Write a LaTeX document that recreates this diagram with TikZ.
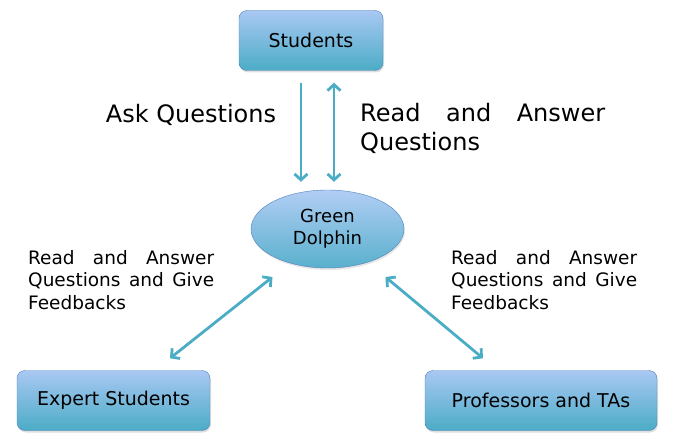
\documentclass[tikz,border=0pt]{standalone}
\usepackage{fontspec}
\setmainfont{DejaVu Sans}
\usetikzlibrary{arrows.meta, shapes.geometric, shadows}
\definecolor{boxtop}{HTML}{A9C8F3}
\definecolor{boxbot}{HTML}{4BACC6}
\definecolor{boxline}{HTML}{4F81BD}
\definecolor{arrcol}{HTML}{4BACC6}

\begin{document}
\begin{tikzpicture}[x=1pt,y=-1pt,
    actor/.style={draw=boxline, rounded corners=8pt, top color=boxtop, bottom color=boxbot,
      minimum height=60pt, font=\fontsize{19}{23}\selectfont, drop shadow={opacity=0.25, shadow xshift=1pt, shadow yshift=-2pt}},
    hub/.style={ellipse, draw=boxline, top color=boxtop!90!white, bottom color=boxbot!85!boxtop,
      minimum width=153pt, minimum height=78pt, inner sep=0pt, align=center,
      font=\fontsize{18}{22}\selectfont, drop shadow={opacity=0.2, shadow xshift=1pt, shadow yshift=-2pt}},
    tip/.tip={Straight Barb[length=6pt,width=13pt]},
    arr/.style={tip-tip, line width=2.8pt, color=arrcol},
    big/.style={font=\fontsize{24}{29}\selectfont, inner sep=0pt},
    small/.style={font=\fontsize{18.5}{22.5}\selectfont, inner sep=0pt, text width=186pt, align=justify, anchor=north west}]
  \useasboundingbox (0,0) rectangle (673,444);
  % the four parties
  \node[actor, minimum width=144pt] (stud) at (311,40.5) {Students};
  \node[hub] (dol) at (327.5,229) {Green\\Dolphin};
  \node[actor, minimum width=193pt] (exp) at (113.5,400.5) {Expert Students};
  \node[actor, minimum width=232pt] (prof) at (541,400.5) {Professors and TAs};
  % students <-> dolphin
  \draw[arr, -tip, shorten <=12pt, shorten >=8pt]
    ([xshift=-10pt]stud.south) -- ([xshift=-10pt]stud.south |- dol.north);
  \draw[arr, shorten <=12pt, shorten >=8pt]
    ([xshift=23pt]stud.south) -- ([xshift=23pt]stud.south |- dol.north);
  % dolphin <-> experts and professors
  \draw[arr] ([shift={(56.5pt,12pt)}]exp.north) -- ([shift={(-55pt,-48pt)}]dol.center);
  \draw[arr] ([shift={(-58pt,12pt)}]prof.north) -- ([shift={(58pt,-48pt)}]dol.center);
  % labels
  \node[big] (ask) at (191,115) {Ask Questions};
  \node[big, text width=245pt, align=justify, anchor=north west] (read) at (360,103) {Read and Answer Questions};
  \node[small] (fbl) at (28,250) {Read and Answer Questions and Give Feedbacks};
  \node[small] (fbr) at (451,250) {Read and Answer Questions and Give Feedbacks};
\end{tikzpicture}
\end{document}
